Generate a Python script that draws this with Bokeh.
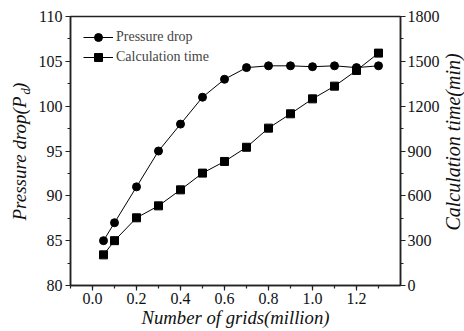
import math
from bokeh.plotting import figure
from bokeh.models import (Range1d, LinearAxis, SingleIntervalTicker, NumeralTickFormatter,
                          Label, Legend, LegendItem)
from bokeh.embed import file_html
from bokeh.resources import INLINE

# ---- data ----
grids = [0.05, 0.1, 0.2, 0.3, 0.4, 0.5, 0.6, 0.7, 0.8, 0.9, 1.0, 1.1, 1.2, 1.3]
pressure_drop = [85, 87, 91, 95, 98, 101, 103, 104.3, 104.5, 104.5, 104.4, 104.5, 104.3, 104.5]
calc_time = [205, 300, 453, 533, 640, 752, 830, 925, 1053, 1149, 1249, 1334, 1439, 1555]

x_label = "Number of grids(million)"
y_label_main = "Pressure drop(P\u2009\u2009)"   # thin spaces leave room for the subscript
y_label_sub = "d"
y2_label = "Calculation time(min)"

FONT = "Liberation Serif"
W, H = 464, 331

p = figure(width=W, height=H, output_backend="svg", toolbar_location=None,
           x_range=Range1d(-0.1, 1.4), y_range=Range1d(80, 110),
           min_border_left=70, min_border_right=61, min_border_top=16, min_border_bottom=46)
p.extra_y_ranges = {"t": Range1d(0, 1800)}
p.grid.visible = False
p.outline_line_color = "#222222"
p.outline_line_width = 1.5
p.background_fill_color = "white"
p.border_fill_color = "white"

def style_axis(ax):
    ax.axis_line_color = "#222222"
    ax.axis_line_width = 1.5
    ax.major_tick_line_color = "#222222"
    ax.minor_tick_line_color = "#222222"
    ax.major_tick_line_width = 1.2
    ax.minor_tick_line_width = 1.2
    ax.major_tick_out = 5
    ax.major_tick_in = 0
    ax.minor_tick_out = 3
    ax.minor_tick_in = 0
    ax.major_label_text_font = FONT
    ax.major_label_text_font_size = "16px"
    ax.major_label_text_color = "#111111"
    ax.axis_label_text_font = FONT
    ax.axis_label_text_font_size = "18.7px"
    ax.axis_label_text_font_style = "italic"
    ax.axis_label_text_color = "#111111"

xa = p.xaxis[0]
style_axis(xa)
xa.ticker = SingleIntervalTicker(interval=0.2, num_minor_ticks=2)
xa.formatter = NumeralTickFormatter(format="0.0")
xa.major_label_standoff = 2
xa.axis_label = x_label
xa.axis_label_standoff = 0

ya = p.yaxis[0]
style_axis(ya)
ya.ticker = SingleIntervalTicker(interval=5, num_minor_ticks=2)
ya.major_label_standoff = 3

ra = LinearAxis(y_range_name="t")
style_axis(ra)
ra.ticker = SingleIntervalTicker(interval=300, num_minor_ticks=2)
ra.major_label_standoff = 2
p.add_layout(ra, "right")

l1 = p.line(grids, pressure_drop, line_color="black", line_width=1)
s1 = p.scatter(grids, pressure_drop, marker="circle", size=8, fill_color="black", line_color="black")
l2 = p.line(grids, calc_time, line_color="black", line_width=1, y_range_name="t")
s2 = p.scatter(grids, calc_time, marker="square", size=8, fill_color="black", line_color="black",
               y_range_name="t")

legend = Legend(items=[LegendItem(label="Pressure drop", renderers=[l1, s1]),
                       LegendItem(label="Calculation time", renderers=[l2, s2])],
                location=(13, 218), margin=0, padding=0, spacing=0,
                glyph_width=30, glyph_height=20, label_height=20, label_standoff=3,
                label_text_font=FONT, label_text_font_size="14px",
                background_fill_alpha=0, border_line_alpha=0)
p.add_layout(legend)

# vertical titles, placed in canvas pixels inside the side panels
common = dict(x_units="canvas", y_units="canvas", angle=math.pi / 2, text_font=FONT,
              text_font_style="italic", text_baseline="alphabetic", text_color="#111111")
main_len = 126
p.add_layout(Label(x=19, y=220, text=y_label_main, text_font_size="19px",
                   text_align="left", **common), "left")
p.add_layout(Label(x=25, y=220 - main_len, text=y_label_sub, text_font_size="12.5px",
                   text_align="left", **common), "left")
p.add_layout(Label(x=452.5, y=141.5, text=y2_label, text_font_size="20px",
                   text_align="center", **common), "right")

open("out.html", "w").write(file_html(p, INLINE))
